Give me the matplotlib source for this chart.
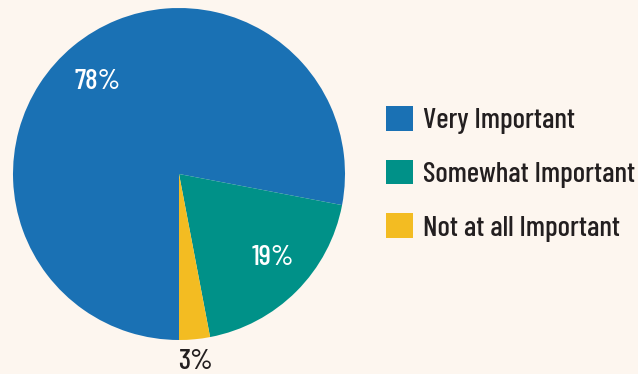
import matplotlib.pyplot as plt

labels = ['Very Important', 'Somewhat Important', 'Not at all Important']
shares = [78, 19, 3]
colors = ['#1a71b4', '#009188', '#f3bc22']
pct_text = ['78%', '19%', '3%']

bg = '#fdf6ef'
ink = '#231f20'

plt.rcParams['font.family'] = ['Barlow Condensed', 'DejaVu Sans']
plt.rcParams['font.weight'] = 'medium'

fig = plt.figure(figsize=(6.38, 3.74), dpi=100, facecolor=bg)
ax = fig.add_axes([0, 0, 1, 1])
ax.set_facecolor(bg)

wedges, _ = ax.pie(shares, colors=colors, startangle=270, counterclock=False,
                   center=(179, 200), radius=166,
                   wedgeprops=dict(linewidth=0))

# pie() resets the view, so fix the pixel-like frame afterwards
ax.set_xlim(0, 638)
ax.set_ylim(0, 374)
ax.set_aspect('equal')
ax.axis('off')

# percentage labels
ax.text(98, 292, pct_text[0], color='white', fontsize=21, ha='center', va='center')
ax.text(273, 116, pct_text[1], color='white', fontsize=21, ha='center', va='center')
ax.text(195, 12, pct_text[2], color=ink, fontsize=21, ha='center', va='center')

leg = ax.legend(wedges, labels, loc='center left', bbox_to_anchor=(0.605, 0.535),
                frameon=False, fontsize=21, handlelength=0.92, handleheight=0.92,
                handletextpad=0.35, labelspacing=0.87, borderaxespad=0, borderpad=0,
                labelcolor=ink)

fig.savefig('out.png', dpi=100, facecolor=bg)
